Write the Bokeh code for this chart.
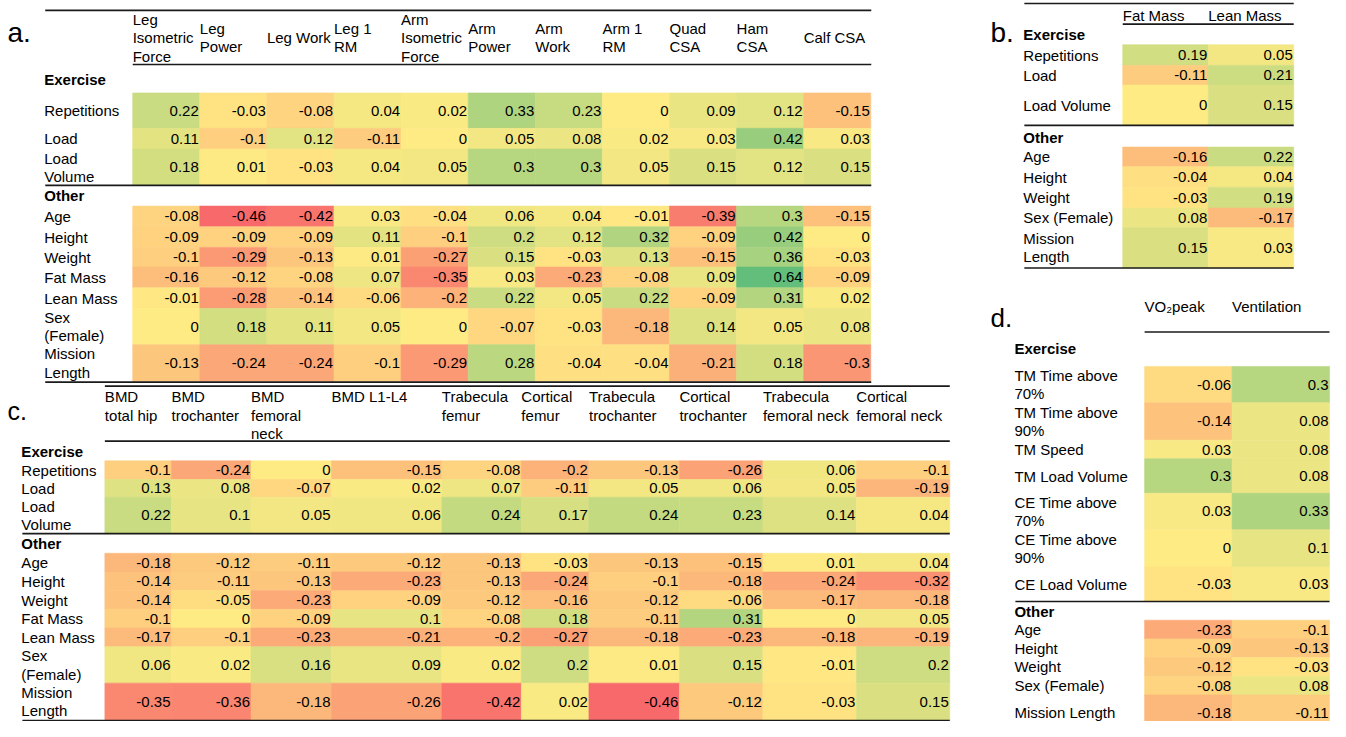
from bokeh.plotting import figure
from bokeh.models import ColumnDataSource, Range1d
from bokeh.core.properties import value
from bokeh.embed import file_html
from bokeh.resources import INLINE

# ======================= DATA =======================
SECTION_LABELS = ["Exercise", "Other"]

# Panel a
A_COLUMNS = ["Leg\nIsometric\nForce", "Leg\nPower", "Leg Work", "Leg 1\nRM",
             "Arm\nIsometric\nForce", "Arm\nPower", "Arm\nWork", "Arm 1\nRM",
             "Quad\nCSA", "Ham\nCSA", "Calf CSA"]
A_EXERCISE_ROWS = ["Repetitions", "Load", "Load\nVolume"]
A_EXERCISE_VALUES = [
    [0.22, -0.03, -0.08, 0.04, 0.02, 0.33, 0.23, 0, 0.09, 0.12, -0.15],
    [0.11, -0.1, 0.12, -0.11, 0, 0.05, 0.08, 0.02, 0.03, 0.42, 0.03],
    [0.18, 0.01, -0.03, 0.04, 0.05, 0.3, 0.3, 0.05, 0.15, 0.12, 0.15],
]
A_OTHER_ROWS = ["Age", "Height", "Weight", "Fat Mass", "Lean Mass",
                "Sex\n(Female)", "Mission\nLength"]
A_OTHER_VALUES = [
    [-0.08, -0.46, -0.42, 0.03, -0.04, 0.06, 0.04, -0.01, -0.39, 0.3, -0.15],
    [-0.09, -0.09, -0.09, 0.11, -0.1, 0.2, 0.12, 0.32, -0.09, 0.42, 0],
    [-0.1, -0.29, -0.13, 0.01, -0.27, 0.15, -0.03, 0.13, -0.15, 0.36, -0.03],
    [-0.16, -0.12, -0.08, 0.07, -0.35, 0.03, -0.23, -0.08, 0.09, 0.64, -0.09],
    [-0.01, -0.28, -0.14, -0.06, -0.2, 0.22, 0.05, 0.22, -0.09, 0.31, 0.02],
    [0, 0.18, 0.11, 0.05, 0, -0.07, -0.03, -0.18, 0.14, 0.05, 0.08],
    [-0.13, -0.24, -0.24, -0.1, -0.29, 0.28, -0.04, -0.04, -0.21, 0.18, -0.3],
]

# Panel b
B_COLUMNS = ["Fat Mass", "Lean Mass"]
B_EXERCISE_ROWS = ["Repetitions", "Load", "Load Volume"]
B_EXERCISE_VALUES = [[0.19, 0.05], [-0.11, 0.21], [0, 0.15]]
B_OTHER_ROWS = ["Age", "Height", "Weight", "Sex (Female)", "Mission\nLength"]
B_OTHER_VALUES = [[-0.16, 0.22], [-0.04, 0.04], [-0.03, 0.19], [0.08, -0.17], [0.15, 0.03]]

# Panel c
C_COLUMNS = ["BMD\ntotal hip", "BMD\ntrochanter", "BMD\nfemoral\nneck", "BMD L1-L4",
             "Trabecula\nfemur", "Cortical\nfemur", "Trabecula\ntrochanter",
             "Cortical\ntrochanter", "Trabecula\nfemoral neck", "Cortical\nfemoral neck"]
C_EXERCISE_ROWS = ["Repetitions", "Load", "Load\nVolume"]
C_EXERCISE_VALUES = [
    [-0.1, -0.24, 0, -0.15, -0.08, -0.2, -0.13, -0.26, 0.06, -0.1],
    [0.13, 0.08, -0.07, 0.02, 0.07, -0.11, 0.05, 0.06, 0.05, -0.19],
    [0.22, 0.1, 0.05, 0.06, 0.24, 0.17, 0.24, 0.23, 0.14, 0.04],
]
C_OTHER_ROWS = ["Age", "Height", "Weight", "Fat Mass", "Lean Mass",
                "Sex\n(Female)", "Mission\nLength"]
C_OTHER_VALUES = [
    [-0.18, -0.12, -0.11, -0.12, -0.13, -0.03, -0.13, -0.15, 0.01, 0.04],
    [-0.14, -0.11, -0.13, -0.23, -0.13, -0.24, -0.1, -0.18, -0.24, -0.32],
    [-0.14, -0.05, -0.23, -0.09, -0.12, -0.16, -0.12, -0.06, -0.17, -0.18],
    [-0.1, 0, -0.09, 0.1, -0.08, 0.18, -0.11, 0.31, 0, 0.05],
    [-0.17, -0.1, -0.23, -0.21, -0.2, -0.27, -0.18, -0.23, -0.18, -0.19],
    [0.06, 0.02, 0.16, 0.09, 0.02, 0.2, 0.01, 0.15, -0.01, 0.2],
    [-0.35, -0.36, -0.18, -0.26, -0.42, 0.02, -0.46, -0.12, -0.03, 0.15],
]

# Panel d
D_COLUMNS = ["VO\u2082peak", "Ventilation"]
D_EXERCISE_ROWS = ["TM Time above\n70%", "TM Time above\n90%", "TM Speed", "TM Load Volume",
                   "CE Time above\n70%", "CE Time above\n90%", "CE Load Volume"]
D_EXERCISE_VALUES = [[-0.06, 0.3], [-0.14, 0.08], [0.03, 0.08], [0.3, 0.08],
                     [0.03, 0.33], [0, 0.1], [-0.03, 0.03]]
D_OTHER_ROWS = ["Age", "Height", "Weight", "Sex (Female)", "Mission Length"]
D_OTHER_VALUES = [[-0.23, -0.1], [-0.09, -0.13], [-0.12, -0.03], [-0.08, 0.08], [-0.18, -0.11]]

# ======================= LAYOUT (reference pixel geometry) =======================
FONT = "Liberation Sans"
FONT_SIZE = "15px"
LINE_H = 18.5
RULE_COLOR = "#1a1a1a"

LAYOUT = {
    "a": dict(letter="a.", letter_x=7, letter_y=33, letter_size="28px", label_x=44,
              col_edges=[133 + 67.5 * k for k in range(12)],
              ex_edges=[94, 130, 151, 188], ot_edges=[209, 230, 251, 271, 292, 313, 350, 387],
              ex_label_y=80, ot_label_y=198, header_mode="center", header_y=38,
              rules=[(45, 876, 10), (133, 876, 65), (45, 876, 188), (45, 876, 388)]),
    "b": dict(letter="b.", letter_x=996, letter_y=33, letter_size="28px", label_x=1029,
              col_edges=[1129, 1215, 1301],
              ex_edges=[45, 66, 86, 127], ot_edges=[149, 169, 190, 211, 231, 272],
              ex_label_y=35, ot_label_y=139, header_mode="center", header_y=15,
              rules=[(1030, 1301, 3), (1129, 1301, 24), (1030, 1301, 127), (1030, 1301, 272)]),
    "c": dict(letter="c.", letter_x=7, letter_y=417, letter_size="25px", label_x=21,
              col_edges=[105, 172, 252, 333, 444, 524, 592, 683, 767, 861, 955],
              ex_edges=[468, 487, 505, 542], ot_edges=[562, 581, 600, 619, 638, 657, 694, 732],
              ex_label_y=458, ot_label_y=552, header_mode="top", header_y=403,
              rules=[(105, 955, 392), (105, 955, 448), (22, 955, 542), (22, 955, 732)]),
    "d": dict(letter="d.", letter_x=996, letter_y=323, letter_size="26px", label_x=1020,
              col_edges=[1151, 1239, 1337],
              ex_edges=[372, 409, 447, 466, 501, 538, 576, 611],
              ot_edges=[630, 649, 668, 687, 706, 742],
              ex_label_y=354, ot_label_y=621, header_mode="center", header_y=311,
              rules=[(1151, 1337, 337), (1021, 1337, 611)]),
}

PANELS = {
    "a": (A_COLUMNS, A_EXERCISE_ROWS, A_EXERCISE_VALUES, A_OTHER_ROWS, A_OTHER_VALUES),
    "b": (B_COLUMNS, B_EXERCISE_ROWS, B_EXERCISE_VALUES, B_OTHER_ROWS, B_OTHER_VALUES),
    "c": (C_COLUMNS, C_EXERCISE_ROWS, C_EXERCISE_VALUES, C_OTHER_ROWS, C_OTHER_VALUES),
    "d": (D_COLUMNS, D_EXERCISE_ROWS, D_EXERCISE_VALUES, D_OTHER_ROWS, D_OTHER_VALUES),
}

# ======================= COLOUR SCALE =======================
RED = (248, 105, 107)
YELLOW = (255, 235, 132)
GREEN = (99, 190, 123)
ALL_VALUES = [v for pn in PANELS.values() for arr in (pn[2], pn[4]) for row in arr for v in row]
VMIN, VMAX = min(ALL_VALUES), max(ALL_VALUES)


def cell_color(v):
    if v >= 0:
        t, end = v / VMAX, GREEN
    else:
        t, end = v / VMIN, RED
    rgb = tuple(int(round(a + (b - a) * t)) for a, b in zip(YELLOW, end))
    return "#%02x%02x%02x" % rgb


def fmt(v):
    s = ("%.2f" % v).rstrip("0").rstrip(".")
    return "0" if s in ("", "-0") else s


# ======================= BUILD =======================
cells = dict(left=[], right=[], top=[], bottom=[], color=[])
vals = dict(x=[], y=[], text=[])
labels = dict(x=[], y=[], text=[])
bold = dict(x=[], y=[], text=[])
rules = dict(x0=[], x1=[], y0=[], y1=[])
letters = dict(x=[], y=[], text=[], size=[])

for key, (cols, ex_rows, ex_vals, ot_rows, ot_vals) in PANELS.items():
    L = LAYOUT[key]
    ce = L["col_edges"]
    for edges, rows, values in ((L["ex_edges"], ex_rows, ex_vals), (L["ot_edges"], ot_rows, ot_vals)):
        for i, (lab, row) in enumerate(zip(rows, values)):
            top, bot = edges[i], edges[i + 1]
            cy = (top + bot) / 2
            parts = lab.split("\n")
            for k, ln in enumerate(parts):
                labels["x"].append(L["label_x"])
                labels["y"].append(cy + (k - (len(parts) - 1) / 2) * LINE_H)
                labels["text"].append(ln)
            for j, v in enumerate(row):
                cells["left"].append(ce[j]); cells["right"].append(ce[j + 1])
                cells["top"].append(top); cells["bottom"].append(bot)
                cells["color"].append(cell_color(v))
                vals["x"].append(ce[j + 1] - 1); vals["y"].append(cy); vals["text"].append(fmt(v))
    for j, h in enumerate(cols):
        parts = h.split("\n")
        for k, ln in enumerate(parts):
            if L["header_mode"] == "center":
                y = L["header_y"] + (k - (len(parts) - 1) / 2) * LINE_H
            else:
                y = L["header_y"] + k * LINE_H
            labels["x"].append(ce[j]); labels["y"].append(y); labels["text"].append(ln)
    bold["x"] += [L["label_x"], L["label_x"]]
    bold["y"] += [L["ex_label_y"], L["ot_label_y"]]
    bold["text"] += SECTION_LABELS
    for x0, x1, y in L["rules"]:
        rules["x0"].append(x0); rules["x1"].append(x1); rules["y0"].append(y); rules["y1"].append(y)
    letters["x"].append(L["letter_x"]); letters["y"].append(L["letter_y"])
    letters["text"].append(L["letter"]); letters["size"].append(L["letter_size"])

p = figure(width=1330, height=721, x_range=Range1d(0, 1338), y_range=Range1d(733, 0),
           output_backend="svg", toolbar_location=None, x_axis_type=None, y_axis_type=None,
           min_border=0)
p.grid.visible = False
p.outline_line_color = None
p.background_fill_color = "white"
p.border_fill_color = "white"

p.quad(left="left", right="right", top="top", bottom="bottom", fill_color="color",
       line_color="color", line_width=0.6, source=ColumnDataSource(cells))
p.segment(x0="x0", y0="y0", x1="x1", y1="y1", line_color=RULE_COLOR, line_width=1.6,
          source=ColumnDataSource(rules))
p.text(x="x", y="y", text="text", text_align="right", text_baseline="middle",
       text_font=value(FONT), text_font_size=FONT_SIZE, text_color="black",
       source=ColumnDataSource(vals))
p.text(x="x", y="y", text="text", text_align="left", text_baseline="middle",
       text_font=value(FONT), text_font_size=FONT_SIZE, text_color="black",
       source=ColumnDataSource(labels))
p.text(x="x", y="y", text="text", text_align="left", text_baseline="middle",
       text_font=value(FONT), text_font_size=FONT_SIZE, text_font_style="bold",
       text_color="black", source=ColumnDataSource(bold))
p.text(x="x", y="y", text="text", text_align="left", text_baseline="alphabetic",
       text_font=value(FONT), text_font_size="size", text_color="black",
       source=ColumnDataSource(letters))

open("out.html", "w").write(file_html(p, INLINE))
